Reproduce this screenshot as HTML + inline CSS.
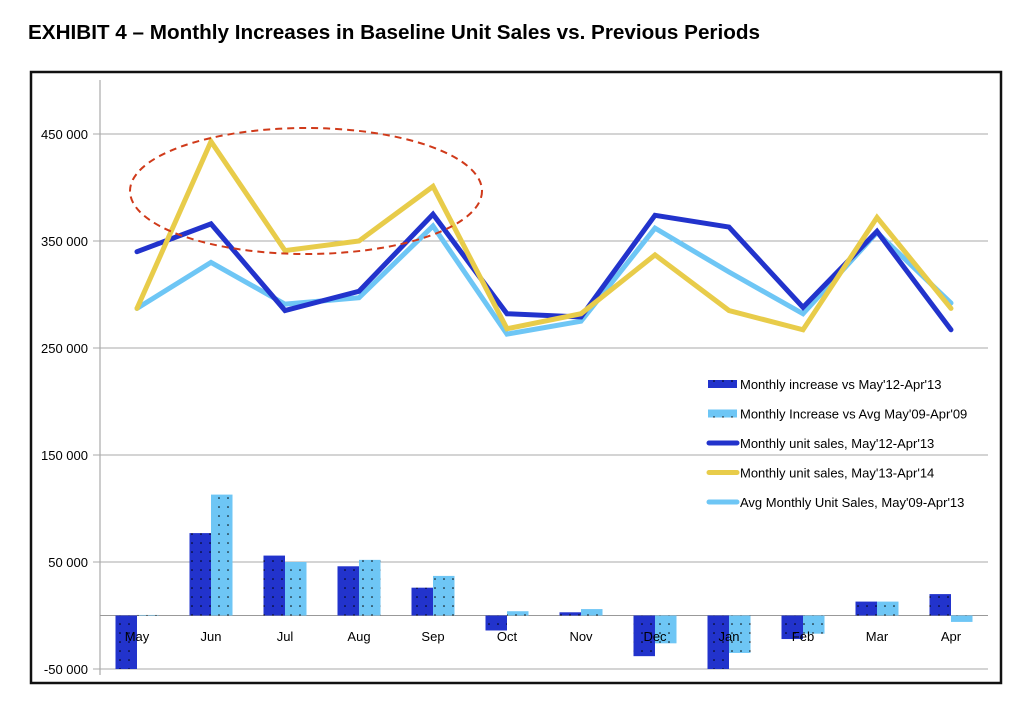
<!DOCTYPE html>
<html><head><meta charset="utf-8"><style>
body{margin:0;background:#fff;width:1030px;height:707px;overflow:hidden;font-family:"Liberation Sans",sans-serif}
</style></head><body>
<svg width="1030" height="707" xmlns="http://www.w3.org/2000/svg">
<defs>
<pattern id="dotsD" width="9" height="9" patternUnits="userSpaceOnUse"><rect width="9" height="9" fill="#2233cc"/><circle cx="3" cy="3" r="0.8" fill="#000"/></pattern>
<pattern id="dotsL" width="9" height="9" patternUnits="userSpaceOnUse"><rect width="9" height="9" fill="#6ec6f5"/><circle cx="3" cy="3" r="0.8" fill="#000"/></pattern>
</defs>
<text x="28" y="39" font-size="20.5" font-weight="bold" textLength="732" lengthAdjust="spacingAndGlyphs">EXHIBIT 4 – Monthly Increases in Baseline Unit Sales vs. Previous Periods</text>
<rect x="31" y="72" width="970" height="611" fill="none" stroke="#111" stroke-width="2.5"/>
<g id="grid"></g><g id="bars"></g><g id="lines"></g>
<ellipse cx="306" cy="191" rx="176" ry="63" fill="none" stroke="#d03a1a" stroke-width="2" stroke-dasharray="7,5"/>
<g id="legend"></g>
</svg>
<script>
const months=["May","Jun","Jul","Aug","Sep","Oct","Nov","Dec","Jan","Feb","Mar","Apr"];
const incVs12=[-50000,77000,56000,46000,26000,-14000,3000,-38000,-50000,-22000,13000,20000];
const incVsAvg=[500,113000,50000,52000,37000,4000,6000,-26000,-35000,-17000,13000,-6000];
const sales12=[340000,366000,285000,303000,375000,282000,279000,374000,363000,288000,359000,267000];
const sales13=[287000,443000,341000,350000,401000,268000,282000,337000,285000,267000,372000,287000];
const avgSales=[287000,330000,291000,297000,364000,263000,275000,362000,321000,282000,358000,292000];
const yTicks=[-50000,50000,150000,250000,350000,450000];
const yTickLabels=["-50 000","50 000","150 000","250 000","350 000","450 000"];
const NS="http://www.w3.org/2000/svg";
const y=v=>615.5-v*107/100000;
const x=i=>137+i*74;
function mk(t,a,p){const e=document.createElementNS(NS,t);for(const k in a)e.setAttribute(k,a[k]);p.appendChild(e);return e;}
const g=document.getElementById('grid');
const ax=mk('line',{x1:100,x2:100,y1:80,y2:675,stroke:'#999','stroke-width':1},g);


yTicks.forEach((t,i)=>{
 const l=mk('line',{x1:93,x2:988,y1:y(t),y2:y(t),stroke:'#aaa','stroke-width':1},g);
 
 
 const tx=mk('text',{x:88,y:y(t)+5,'text-anchor':'end','font-size':13},g);
 tx.textContent=yTickLabels[i];
 
 
});
const z=mk('line',{x1:100,x2:988,y1:y(0),y2:y(0),stroke:'#999','stroke-width':1},g);


const b=document.getElementById('bars');
months.forEach((m,i)=>{
 [[incVs12,'url(#dotsD)',-21.5,'bar-inc-vs-12'],[incVsAvg,'url(#dotsL)',0,'bar-inc-vs-avg']].forEach(([arr,f,off,n])=>{
  const v=arr[i];const y0=y(0),y1=y(v);
  const r=mk('rect',{x:x(i)+off,y:Math.min(y0,y1),width:21.5,height:Math.abs(y1-y0),fill:f},b);
  
  
 });
});
months.forEach((m,i)=>{
 const t=mk('text',{x:x(i),y:641,'text-anchor':'middle','font-size':13},b);
 t.textContent=m;
 
 
});
const L=document.getElementById('lines');
[[avgSales,'#6ec6f5','line-avg-sales'],[sales12,'#2233cc','line-sales-12'],[sales13,'#e8cc4a','line-sales-13']].forEach(([arr,c,n])=>{
 const p=mk('polyline',{points:arr.map((v,i)=>x(i)+','+y(v)).join(' '),fill:'none',stroke:c,'stroke-width':5,'stroke-linejoin':'miter','stroke-linecap':'round'},L);
 
 
});
const lg=document.getElementById('legend');
const items=[["Monthly increase vs May'12-Apr'13",'url(#dotsD)','bar'],["Monthly Increase vs Avg May'09-Apr'09",'url(#dotsL)','bar'],["Monthly unit sales, May'12-Apr'13",'#2233cc','line'],["Monthly unit sales, May'13-Apr'14",'#e8cc4a','line'],["Avg Monthly Unit Sales, May'09-Apr'13",'#6ec6f5','line']];
items.forEach(([lab,c,k],i)=>{
 const yy=384+i*29.5;
 let s;
 if(k==='bar') s=mk('rect',{x:708,y:yy-4,width:29,height:8,fill:c},lg);
 else s=mk('line',{x1:709,x2:737,y1:yy,y2:yy,stroke:c,'stroke-width':5,'stroke-linecap':'round'},lg);
 
 
 const t=mk('text',{x:740,y:yy+5,'font-size':13},lg);
 t.textContent=lab;
 
 
});
</script>
</body></html>
